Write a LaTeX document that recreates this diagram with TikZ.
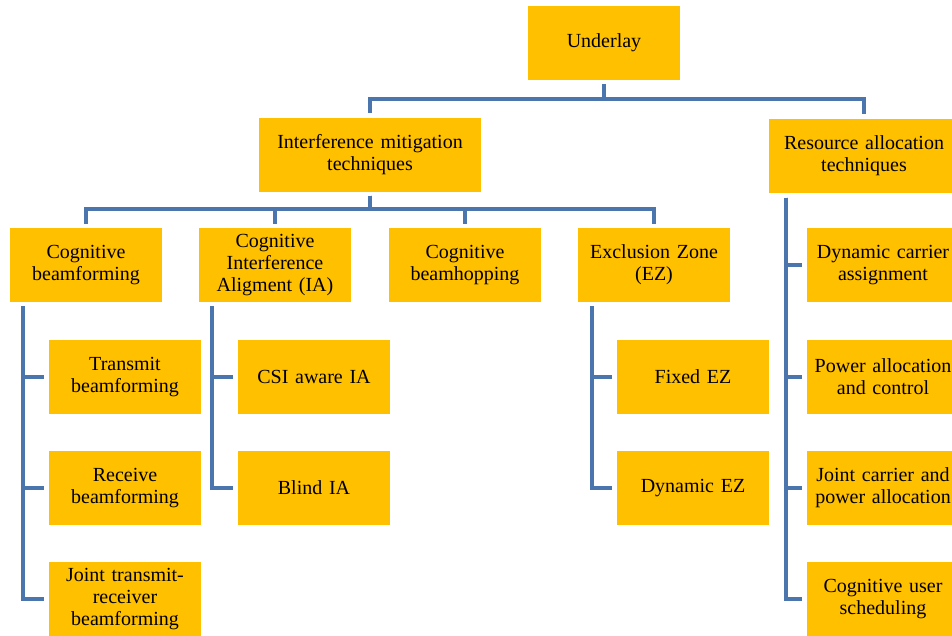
\documentclass[tikz,border=0pt]{standalone}
\usepackage{fontspec}
\setmainfont{Liberation Serif}
\usetikzlibrary{calc}
\definecolor{boxfill}{HTML}{FFC000}
\definecolor{linkblue}{HTML}{4A76AD}
\begin{document}
\begin{tikzpicture}[x=1pt,y=-1pt,
  box/.style={fill=boxfill, draw=none, minimum width=152pt, minimum height=74pt,
              align=center, inner sep=0pt, text width=150pt,
              font=\fontsize{20}{22}\selectfont},
  widebox/.style={box, minimum width=#1, text width=#1-2pt},
  link/.style={draw=linkblue, line width=3.5pt}]
\useasboundingbox (0,0) rectangle (952,635);
\clip (0,0) rectangle (952,635);

% root and first level
\node[box] (u) at (604,43) {Underlay};
\node[widebox=222pt] (im) at (370,154.5) {Interference mitigation\\techniques};
\node[widebox=190pt] (ra) at (864,155.5) {Resource allocation\\techniques};

% interference mitigation branches
\node[box] (cb)  at (86,265)  {Cognitive\\beamforming};
\node[box] (cia) at (275,265) {Cognitive\\Interference\\Aligment (IA)};
\node[box] (cbh) at (465,265) {Cognitive\\beamhopping};
\node[box] (ez)  at (654,265) {Exclusion Zone\\(EZ)};

% beamforming leaves
\node[box] (tb) at (125,377) {Transmit\\beamforming};
\node[box] (rb) at (125,488) {Receive\\beamforming};
\node[box] (jt) at (125,599) {Joint transmit-\\receiver\\beamforming};

% interference alignment leaves
\node[box] (csi) at (314,377) {CSI aware IA};
\node[box] (bia) at (314,488) {Blind IA};

% exclusion zone leaves
\node[box] (fez) at (693,377) {Fixed EZ};
\node[box] (dez) at (693,488) {Dynamic EZ};

% resource allocation leaves
\node[box] (dca) at (883,265) {Dynamic carrier\\assignment};
\node[box] (pac) at (883,377) {Power allocation\\and control};
\node[box] (jcp) at (883,488) {Joint carrier and\\power allocation};
\node[box] (cus) at (883,599) {Cognitive user\\scheduling};

% root connectors
\draw[link] ($(u.south)+(0,4)$) -- ++(0,15) -| ($(im.north)+(0,-4)$);
\draw[link] ($(u.south)+(0,4)$) -- ++(0,15) -| ($(ra.north)+(0,-4)$);

% interference mitigation connectors
\foreach \c in {cb,cia,cbh,ez}
  \draw[link] ($(im.south)+(0,4)$) -- ++(0,13.5) -| ($(\c.north)+(0,-4)$);

% vertical spines with side branches
\foreach \c in {tb,rb,jt}
  \draw[link] ($(cb.south west)+(13,4)$) |- ($(\c.west)+(-5,0)$);
\foreach \c in {csi,bia}
  \draw[link] ($(cia.south west)+(13,4)$) |- ($(\c.west)+(-5,0)$);
\foreach \c in {fez,dez}
  \draw[link] ($(ez.south west)+(14,4)$) |- ($(\c.west)+(-5,0)$);
\foreach \c in {dca,pac,jcp,cus}
  \draw[link] ($(ra.south west)+(17,5)$) |- ($(\c.west)+(-5,0)$);
\end{tikzpicture}
\end{document}
